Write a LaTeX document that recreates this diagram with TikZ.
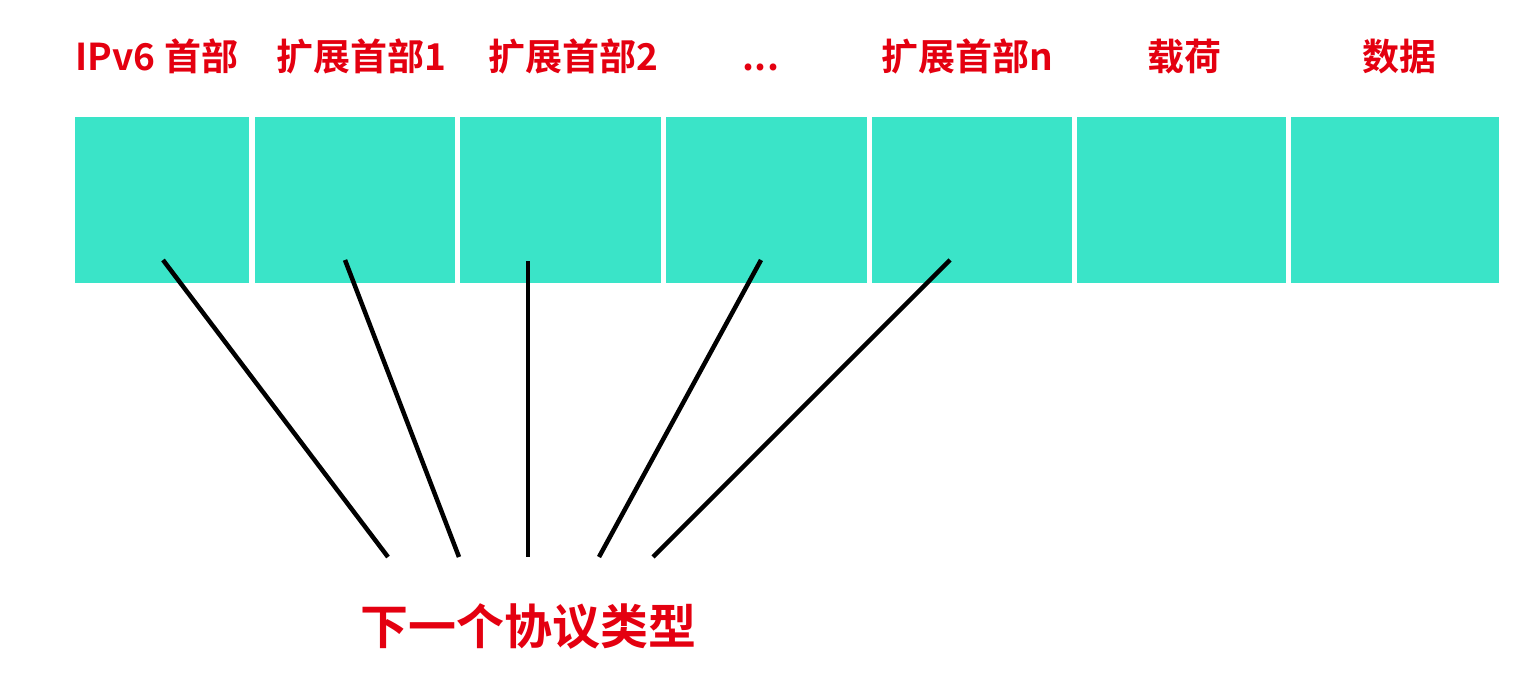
\documentclass[tikz,border=0pt]{standalone}
\usepackage{fontspec}
\newfontfamily\cjkb{Noto Sans CJK SC Bold}
\definecolor{boxc}{RGB}{58,228,200}
\definecolor{labc}{RGB}{228,0,16}
\begin{document}
\begin{tikzpicture}[x=1pt,y=-1pt,
  seg/.style={fill=boxc,draw=none,inner sep=0pt,anchor=north west,minimum height=166pt},
  toplab/.style={text=labc,font=\cjkb\fontsize{37}{42}\selectfont,inner sep=0pt,anchor=base},
  botlab/.style={text=labc,font=\cjkb\fontsize{48}{54}\selectfont,inner sep=0pt,anchor=base},
  link/.style={draw=black,line width=4.5pt}]
\useasboundingbox (0,0) rectangle (1530,674);
\node[seg,minimum width=174pt] (b1) at (75,117) {};
\node[seg,minimum width=200pt] (b2) at (255,117) {};
\node[seg,minimum width=201pt] (b3) at (460,117) {};
\node[seg,minimum width=201pt] (b4) at (666,117) {};
\node[seg,minimum width=200pt] (b5) at (872,117) {};
\node[seg,minimum width=209pt] (b6) at (1077,117) {};
\node[seg,minimum width=208pt] (b7) at (1291,117) {};
\node[toplab] (l1) at (157,71) {IPv6 首部};
\node[toplab] (l2) at (361,71) {扩展首部1};
\node[toplab] (l3) at (573,71) {扩展首部2};
\node[toplab] (l4) at (761,71) {...};
\node[toplab] (l5) at (967,71) {扩展首部n};
\node[toplab] (l6) at (1184,71) {载荷};
\node[toplab] (l7) at (1399,71) {数据};
\node[botlab] (nt) at (528,644) {下一个协议类型};
\coordinate (s1) at (163,260);
\coordinate (s2) at (345,260);
\coordinate (s3) at (528,261);
\coordinate (s4) at (761,260);
\coordinate (s5) at (950,260);
\coordinate (e1) at (388,557);
\coordinate (e2) at (459,557);
\coordinate (e3) at (528,557);
\coordinate (e4) at (599,557);
\coordinate (e5) at (653,557);
\draw[link] (s1) -- (e1);
\draw[link] (s2) -- (e2);
\draw[link] (s3) -- (e3);
\draw[link] (s4) -- (e4);
\draw[link] (s5) -- (e5);
\end{tikzpicture}
\end{document}
